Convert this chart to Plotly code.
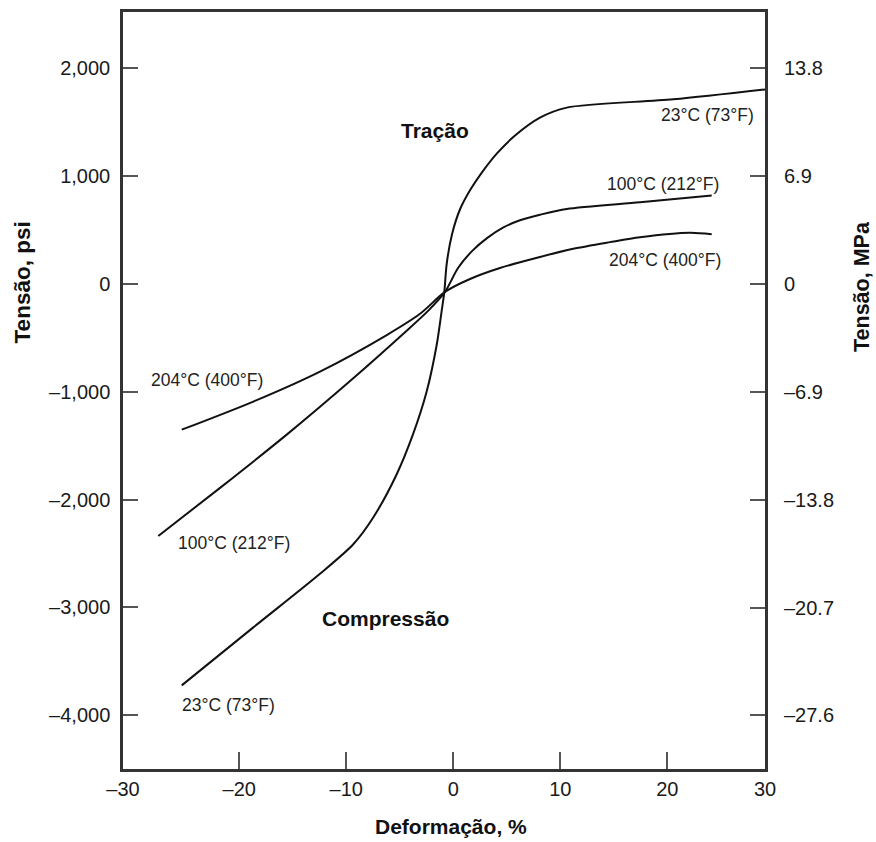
import plotly.graph_objects as go

# ---- data (strain %, stress psi) ----
x_23 = [-25.38, -18.69, -12.46, -9.35, -7.5, -5.29, -3.77, -2.49, -1.55, -1.10, -0.84,
        -0.62, -0.12, 0.63, 1.56, 2.68, 4.08, 5.77, 8.10, 10.6, 20.56, 29.13]
y_23 = [-3724, -3186, -2689, -2415, -2169, -1765, -1396, -998, -564, -259, -74,
        185, 462, 693, 869, 1035, 1211, 1377, 1543, 1636, 1713, 1805]

x_100 = [-27.57, -21.8, -15.57, -9.35, -4.67, -2.36, -0.78, 0.44, 1.75, 3.15, 4.64, 6.23, 8.10, 10.6, 17.45, 24.15]
y_100 = [-2338, -1892, -1398, -875, -462, -250, -74, 148, 305, 425, 522, 591, 642, 696, 758, 820]

x_204 = [-25.38, -18.69, -12.46, -6.22, -3.11, -0.78, 1.56, 4.36, 8.10, 11.21, 14.64, 17.45, 22.12, 24.15]
y_204 = [-1352, -1091, -813, -474, -277, -74, 46, 148, 250, 326, 388, 434, 476, 462]

x_range = [-30.87, 29.13]
y_range = [-4500, 2523]
psi_to_mpa = 0.006895

x_tickvals = [x_range[0], -20, -10, 0, 10, 20, x_range[1]]
x_ticktext = ["\u201330", "\u201320", "\u201310", "0", "10", "20", "30"]
y_tickvals = [2000, 1000, 0, -1000, -2000, -3000, -4000]
y_ticktext = ["2,000", "1,000", "0", "\u20131,000", "\u20132,000", "\u20133,000", "\u20134,000"]
y2_tickvals = [13.8, 6.9, 0, -6.9, -13.8, -20.7, -27.6]
y2_ticktext = ["13.8", "6.9", "0", "\u20136.9", "\u201313.8", "\u201320.7", "\u201327.6"]

curve_labels = [
    ("23\u00b0C (73\u00b0F)", 23.8, 1571),
    ("100\u00b0C (212\u00b0F)", 19.6, 924),
    ("204\u00b0C (400\u00b0F)", 19.8, 222),
    ("204\u00b0C (400\u00b0F)", -23.0, -887),
    ("100\u00b0C (212\u00b0F)", -20.5, -2403),
    ("23\u00b0C (73\u00b0F)", -21.0, -3909),
]
region_labels = [("Tra\u00e7\u00e3o", -1.7, 1423), ("Compress\u00e3o", -6.3, -3105)]

FONT = "Liberation Sans, Arial, sans-serif"

fig = go.Figure()
for xs, ys in [(x_23, y_23), (x_100, y_100), (x_204, y_204)]:
    fig.add_trace(go.Scatter(x=xs, y=ys, mode="lines",
                             line=dict(color="#111111", width=2, shape="spline", smoothing=0.8),
                             showlegend=False, hoverinfo="skip"))
# invisible trace to activate y2
fig.add_trace(go.Scatter(x=[0], y=[0], yaxis="y2", mode="markers",
                         marker=dict(opacity=0), showlegend=False, hoverinfo="skip"))

annotations = []
for t, x, y in curve_labels:
    annotations.append(dict(text=t, x=x, y=y, xref="x", yref="y", showarrow=False,
                            xanchor="center", yanchor="middle",
                            font=dict(family=FONT, size=17.5, color="#222222")))
for t, x, y in region_labels:
    annotations.append(dict(text="<b>%s</b>" % t, x=x, y=y, xref="x", yref="y", showarrow=False,
                            xanchor="center", yanchor="middle",
                            font=dict(family=FONT, size=21, color="#111111")))
annotations += [
    dict(text="<b>Tens\u00e3o, psi</b>", x=-0.157, y=0.643, xref="paper", yref="paper",
         xanchor="center", yanchor="middle",
         textangle=-90, showarrow=False, font=dict(family=FONT, size=22.5, color="#111111")),
    dict(text="<b>Tens\u00e3o, MPa</b>", x=1.151, y=0.638, xref="paper", yref="paper",
         xanchor="center", yanchor="middle",
         textangle=-90, showarrow=False, font=dict(family=FONT, size=21.5, color="#111111")),
    dict(text="<b>Deforma\u00e7\u00e3o, %</b>", x=0.511, y=-0.076, xref="paper", yref="paper",
         xanchor="center", yanchor="middle",
         showarrow=False, font=dict(family=FONT, size=21, color="#111111")),
]

fig.update_layout(
    width=876, height=842,
    margin=dict(l=123, r=111, t=9, b=73),
    paper_bgcolor="white", plot_bgcolor="white",
    annotations=annotations,
    xaxis=dict(range=x_range, tickvals=x_tickvals, ticktext=x_ticktext,
               showgrid=False, zeroline=False, showline=True, mirror=True,
               linecolor="#333333", linewidth=2.5,
               ticks="inside", ticklen=17, tickwidth=2, tickcolor="#555555",
               tickfont=dict(family=FONT, size=20, color="#1a1a1a")),
    yaxis=dict(range=y_range, tickvals=y_tickvals, ticktext=y_ticktext,
               showgrid=False, zeroline=False, showline=True, mirror=True,
               linecolor="#333333", linewidth=2.5,
               ticks="inside", ticklen=15, tickwidth=2, tickcolor="#555555",
               ticklabelstandoff=6,
               tickfont=dict(family=FONT, size=20, color="#1a1a1a")),
    yaxis2=dict(overlaying="y", side="right",
                range=[y_range[0] * psi_to_mpa, y_range[1] * psi_to_mpa],
                tickvals=y2_tickvals, ticktext=y2_ticktext,
                showgrid=False, zeroline=False, showline=False,
                ticks="inside", ticklen=15, tickwidth=2, tickcolor="#555555",
                ticklabelstandoff=18,
                tickfont=dict(family=FONT, size=20, color="#1a1a1a")),
)

fig.write_html("out.html")
